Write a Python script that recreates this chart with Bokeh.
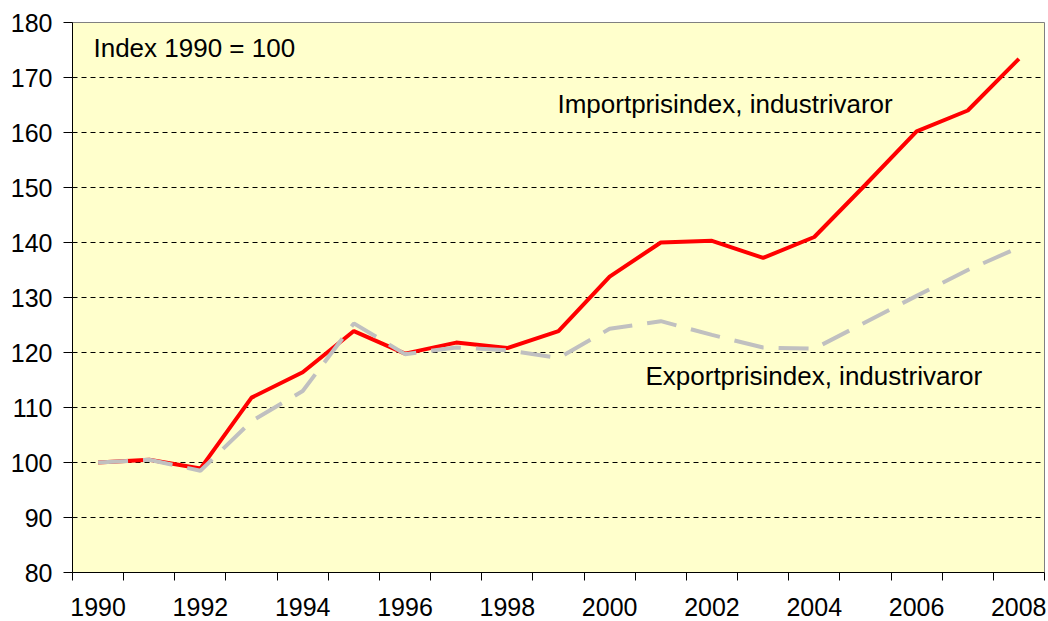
from bokeh.plotting import figure
from bokeh.models import FixedTicker, Label, Range1d, ColumnDataSource
from bokeh.embed import file_html
from bokeh.resources import INLINE

years = list(range(1990, 2009))
import_idx = [100.0, 100.5, 98.9, 111.8, 116.4, 123.9, 119.8, 121.8, 120.8, 123.9,
              133.8, 140.0, 140.3, 137.2, 141.0, 150.5, 160.2, 164.0, 173.4]
export_idx = [100.0, 100.5, 98.5, 107.5, 113.0, 125.3, 119.7, 120.9, 120.4, 119.0,
              124.3, 125.7, 123.2, 120.9, 120.7, 125.5, 130.3, 135.0, 139.1]
y_ticks = list(range(80, 190, 10))
x_label_years = list(range(1990, 2009, 2))
x_boundaries = [y - 0.5 for y in years] + [years[-1] + 0.5]

FONT = "Liberation Sans"

p = figure(frame_width=972, frame_height=550, output_backend="svg", toolbar_location=None,
           x_range=Range1d(1989.5, 2008.5), y_range=Range1d(80, 180),
           min_border_left=72, min_border_right=2, min_border_top=22, min_border_bottom=47)

p.background_fill_color = "#FFFFCC"
p.border_fill_color = "white"
p.outline_line_color = "#808080"
p.outline_line_width = 1

# grid
p.xgrid.grid_line_color = None
p.ygrid.grid_line_color = "black"
p.ygrid.grid_line_dash = "5 4"
p.ygrid.grid_line_width = 1

# y axis
p.yaxis.ticker = FixedTicker(ticks=y_ticks)
p.yaxis.axis_line_color = "black"
p.yaxis.major_tick_line_color = "black"
p.yaxis.major_tick_out = 9
p.yaxis.major_tick_in = 0
p.yaxis.minor_tick_line_color = None
p.yaxis.major_label_standoff = 11
p.yaxis.major_label_text_font = FONT
p.yaxis.major_label_text_font_size = "25px"
p.yaxis.major_label_text_color = "black"

# x axis
p.xaxis.ticker = FixedTicker(ticks=x_label_years, minor_ticks=x_boundaries)
p.xaxis.axis_line_color = "black"
p.xaxis.major_tick_line_color = None
p.xaxis.major_tick_out = 0
p.xaxis.major_tick_in = 0
p.xaxis.minor_tick_line_color = "black"
p.xaxis.minor_tick_out = 8
p.xaxis.minor_tick_in = 0
p.xaxis.major_label_standoff = 17
p.xaxis.major_label_text_font = FONT
p.xaxis.major_label_text_font_size = "25px"
p.xaxis.major_label_text_color = "black"

src = ColumnDataSource(dict(year=years, imp=import_idx, exp=export_idx))
p.line("year", "imp", source=src, line_color="#FF0000", line_width=4)
p.line("year", "exp", source=src, line_color="#C0C0C0", line_width=4, line_dash="30 15")

p.add_layout(Label(x=1989.91, y=175.3, text="Index 1990 = 100", text_font=FONT,
                   text_font_size="26px", text_baseline="middle", text_color="black"))
p.add_layout(Label(x=1998.98, y=165.1, text="Importprisindex, industrivaror", text_font=FONT,
                   text_font_size="26px", text_baseline="middle", text_color="black"))
p.add_layout(Label(x=2000.7, y=115.8, text="Exportprisindex, industrivaror", text_font=FONT,
                   text_font_size="26px", text_baseline="middle", text_color="black"))

open("out.html", "w").write(file_html(p, INLINE))
